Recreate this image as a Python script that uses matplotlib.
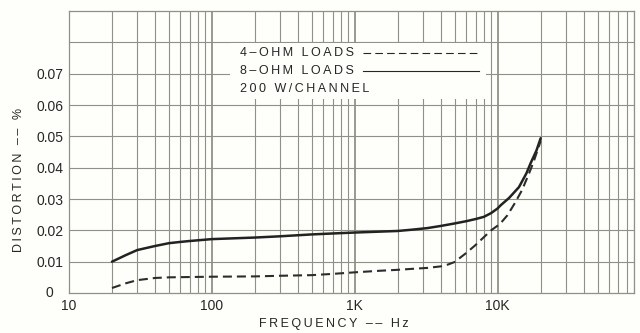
import matplotlib
matplotlib.use('Agg')
import matplotlib.pyplot as plt
from matplotlib.ticker import FixedLocator, NullFormatter, LogLocator
from matplotlib.patches import Rectangle

plt.rcParams['font.family'] = ['Liberation Sans', 'DejaVu Sans']
plt.rcParams['lines.scale_dashes'] = False

# Distortion vs frequency at 200 W/channel
freq_4ohm = [20, 25, 30, 40, 50, 70, 100, 200, 300, 500, 700, 1000, 1500, 2000,
             2500, 3200, 4000, 4500, 5000, 6000, 7000, 8000, 9000, 10000, 10500,
             11700, 13200, 14800, 16600, 17800, 20000]
dist_4ohm = [0.0016, 0.0031, 0.0041, 0.0048, 0.0050, 0.0051, 0.0052, 0.0053, 0.0055,
             0.0057, 0.0061, 0.0066, 0.0071, 0.0074, 0.0077, 0.0080, 0.0085, 0.0091,
             0.0099, 0.0127, 0.0153, 0.0178, 0.0200, 0.0215, 0.0223, 0.0248, 0.0287,
             0.0328, 0.0382, 0.0417, 0.0485]

freq_8ohm = [20, 25, 30, 40, 50, 60, 70, 100, 200, 300, 500, 700, 1000, 2000, 2500,
             3200, 4000, 5000, 6000, 7000, 8000, 9000, 10000, 10500, 12000, 14100,
             15900, 17000, 18700, 20000]
dist_8ohm = [0.0100, 0.0121, 0.0137, 0.0150, 0.0159, 0.0163, 0.0166, 0.0172, 0.0177,
             0.0181, 0.0187, 0.0190, 0.0193, 0.0198, 0.0202, 0.0207, 0.0214, 0.0222,
             0.0229, 0.0236, 0.0243, 0.0255, 0.0270, 0.0280, 0.0303, 0.0338, 0.0382,
             0.0414, 0.0455, 0.0494]

x_ticks = [10, 100, 1000, 10000]
x_labels = ['10', '100', '1K', '10K']
y_ticks = [0.01, 0.02, 0.03, 0.04, 0.05, 0.06, 0.07]
y_labels = ['0.01', '0.02', '0.03', '0.04', '0.05', '0.06', '0.07']

grid_col = '#8e9286'
ink = '#262626'
paper = '#fefefb'


def spaced(s):
    # loose letter spacing with thin spaces
    return '\u2009'.join(s)


fig = plt.figure(figsize=(6.4, 3.33), dpi=100, facecolor=paper)
ax = fig.add_axes([0.1078, 0.1201, 0.8828, 0.8468], facecolor=paper)

ax.set_xscale('log')
ax.set_xlim(10, 90000)
ax.set_ylim(0, 0.09)

ax.xaxis.set_major_locator(FixedLocator(x_ticks))
ax.xaxis.set_minor_locator(LogLocator(base=10, subs=range(2, 10)))
ax.xaxis.set_minor_formatter(NullFormatter())
ax.set_xticklabels(x_labels)
ax.yaxis.set_major_locator(FixedLocator(y_ticks))
ax.set_yticklabels(y_labels)

ax.tick_params(axis='both', which='both', length=0, labelsize=10, labelcolor=ink)
ax.tick_params(axis='x', pad=4)
ax.tick_params(axis='y', pad=4)

# graph paper grid
ax.grid(True, axis='x', which='major', color=grid_col, lw=1.3)
ax.grid(True, axis='x', which='minor', color=grid_col, lw=0.8)
for yv in [0.01, 0.02, 0.03, 0.04, 0.05, 0.06, 0.07, 0.08]:
    ax.axhline(yv, color=grid_col, lw=0.8, zorder=0.5)
ax.set_axisbelow(True)
for sp in ax.spines.values():
    sp.set_color(grid_col)
    sp.set_linewidth(0.9)

ax.text(-0.035, 0.0, '0', transform=ax.get_yaxis_transform(), ha='center',
        va='center', fontsize=10, color=ink)

# curves
ax.plot(freq_8ohm, dist_8ohm, color='#222222', lw=1.8, solid_capstyle='round', zorder=3)
ax.plot(freq_4ohm, dist_4ohm, color='#2c2c2c', lw=1.5, dashes=(6.5, 3.6),
        dash_capstyle='butt', zorder=3)

# key box
ax.add_patch(Rectangle((0.285, 0.688), 0.453, 0.197, transform=ax.transAxes,
                       facecolor=paper, edgecolor='none', zorder=2))
key_x = 0.303
ax.text(key_x, 0.851, spaced('4–OHM LOADS'), transform=ax.transAxes, fontsize=9,
        color=ink, va='center', zorder=4)
ax.text(key_x, 0.787, spaced('8–OHM LOADS'), transform=ax.transAxes, fontsize=9,
        color=ink, va='center', zorder=4)
ax.text(key_x, 0.723, spaced('200 W/CHANNEL'), transform=ax.transAxes, fontsize=9,
        color=ink, va='center', zorder=4)
ax.plot([0.520, 0.726], [0.851, 0.851], transform=ax.transAxes, color=ink, lw=0.8,
        dashes=(5.5, 3.0), zorder=4)
ax.plot([0.520, 0.726], [0.787, 0.787], transform=ax.transAxes, color=ink, lw=0.8,
        zorder=4)

fig.text(334 / 640, 1 - 324.5 / 333, spaced('FREQUENCY –– Hz'), ha='center',
         va='center', fontsize=9, color=ink)
fig.text(19 / 640, 1 - 180 / 333, spaced('DISTORTION –– %'), ha='center',
         va='center', rotation=90, fontsize=9, color=ink)

fig.savefig('out.png', dpi=100, facecolor=paper)
